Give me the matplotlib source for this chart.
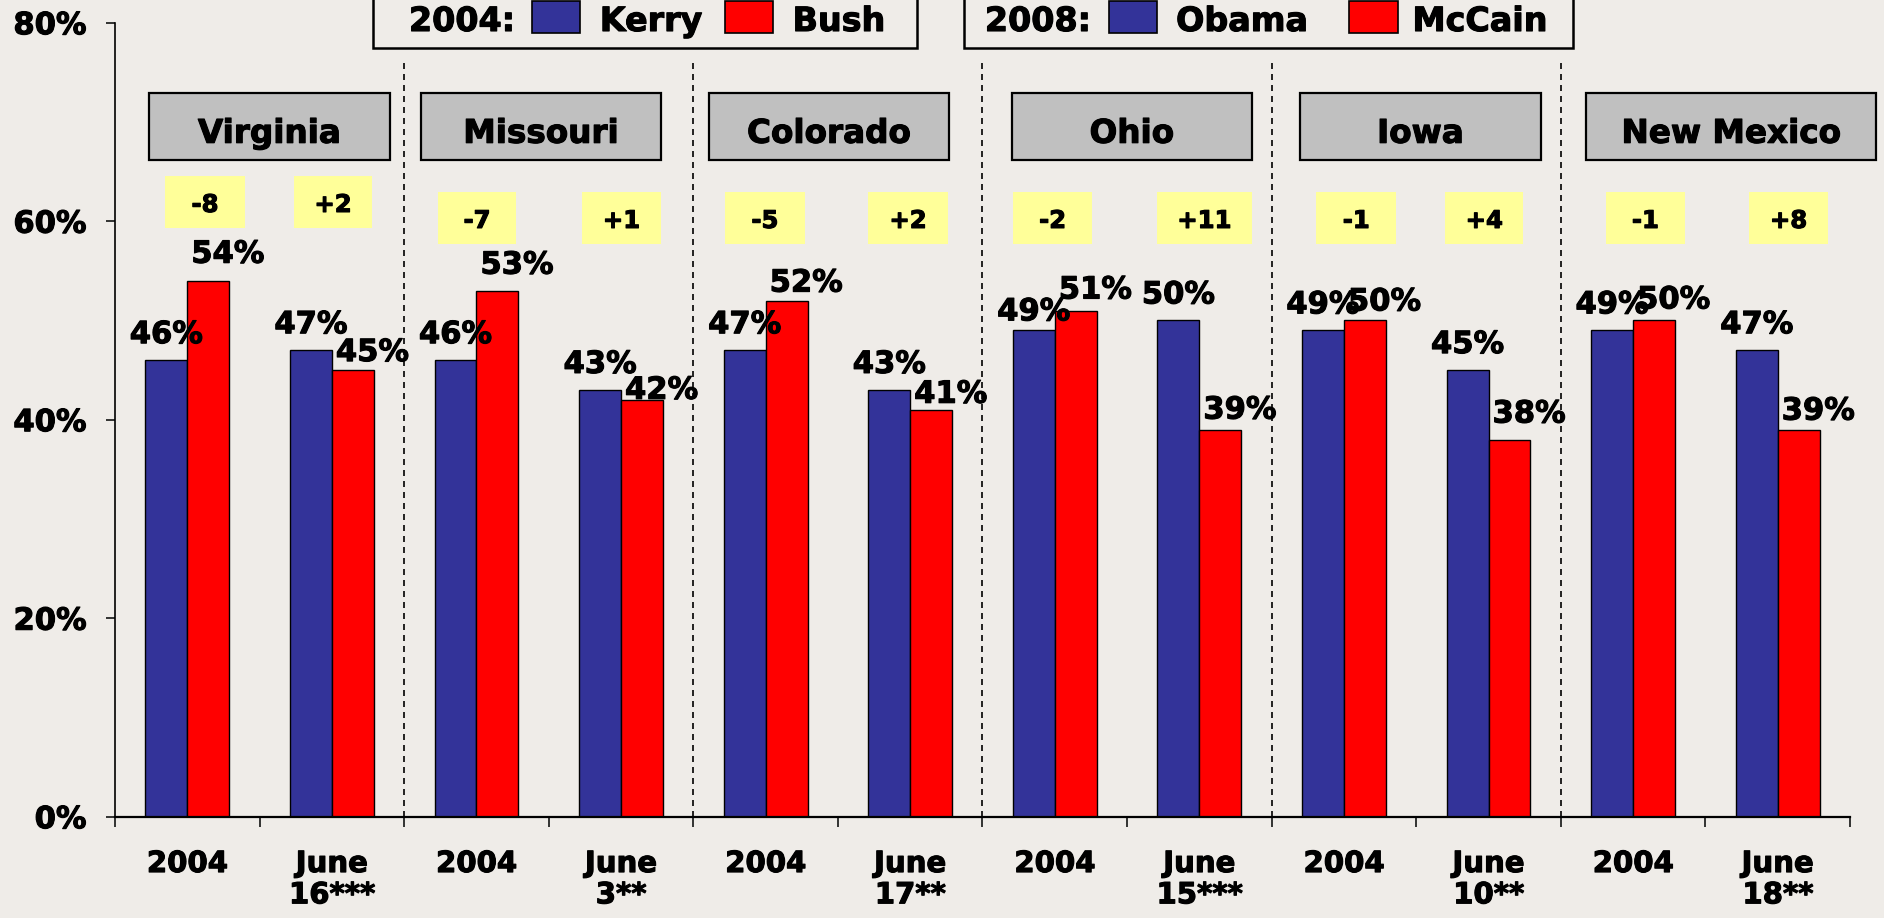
import numpy as np
import matplotlib
matplotlib.use('Agg')
import matplotlib.pyplot as plt
import matplotlib.patheffects as pe
from matplotlib.patches import Rectangle
from matplotlib.text import Text
from matplotlib.ticker import PercentFormatter

# data
states = ['Virginia', 'Missouri', 'Colorado', 'Ohio', 'Iowa', 'New Mexico']
poll_dates = ['June\n16***', 'June\n3**', 'June\n17**', 'June\n15***', 'June\n10**', 'June\n18**']
dem_2004 = [46, 46, 47, 49, 49, 49]   # Kerry
rep_2004 = [54, 53, 52, 51, 50, 50]   # Bush
dem_2008 = [47, 43, 43, 50, 45, 47]   # Obama
rep_2008 = [45, 42, 41, 39, 38, 39]   # McCain
margin_2004 = ['-8', '-7', '-5', '-2', '-1', '-1']
margin_2008 = ['+2', '+1', '+2', '+11', '+4', '+8']

# one category per poll: 2004, 2008, 2004, 2008 ...
cats = [c for d in poll_dates for c in ('2004', d)]
dem_vals = [v for pair in zip(dem_2004, dem_2008) for v in pair]
rep_vals = [v for pair in zip(rep_2004, rep_2008) for v in pair]
margins = [m for pair in zip(margin_2004, margin_2008) for m in pair]

# label gaps above bars (pixels), as placed in the original
gap_dem = [17, 17, 17, 17, 17, 17, 10, 17, 17, 17, 17, 17]
gap_rep = [18, 9, 17, 1, 9, 7, 12, 11, 10, 17, 12, 10]

bg = '#efece8'
blue = '#333399'
red = '#ff0000'
W, H = 1884, 918

plt.rcParams['font.family'] = 'DejaVu Sans'
plt.rcParams['font.weight'] = 'bold'

fig = plt.figure(figsize=(W / 100, H / 100), dpi=100, facecolor=bg)
ax = fig.add_axes([115 / W, 101.3 / H, (1850 - 115) / W, 794 / H])
ax.set_facecolor('none')

x = np.arange(len(cats))
bw = 0.29
ax.bar(x - bw / 2, dem_vals, bw, color=blue, edgecolor='black', linewidth=1.0, zorder=2)
ax.bar(x + bw / 2, rep_vals, bw, color=red, edgecolor='black', linewidth=1.0, zorder=2)

for i in range(len(cats)):
    ax.annotate(f'{dem_vals[i]}%', (x[i] - bw / 2, dem_vals[i]), xytext=(0, gap_dem[i]),
                textcoords='offset pixels', ha='center', va='baseline', fontsize=22, zorder=4)
    ax.annotate(f'{rep_vals[i]}%', (x[i], rep_vals[i]), xytext=(4, gap_rep[i]),
                textcoords='offset pixels', ha='left', va='baseline', fontsize=22, zorder=4)

# dashed separators between states
ax.vlines(np.arange(1.5, 10, 2), 0, 75.9, colors='black', linestyles=(0, (3.6, 3)),
          linewidth=1.2, zorder=1)

# state name boxes
box_left = [-0.265, 1.616, 3.608, 5.703, 7.695, 9.673]
box_w = [1.667, 1.66, 1.66, 1.66, 1.667, 2.01]
for s, l, w in zip(states, box_left, box_w):
    ax.add_patch(Rectangle((l, 66.18), w, 6.76, facecolor='#c0c0c0', edgecolor='black',
                           linewidth=1.6, clip_on=False, zorder=3))
    ax.text(l + w / 2, 67.9, s, ha='center', va='baseline', fontsize=23.5, zorder=4)

# yellow margin boxes
ybox_left = [-0.154, 0.738, 1.734, 2.73, 3.72, 4.71, 5.71, 6.706, 7.81, 8.70, 9.81, 10.80]
ybox_w = [0.553, 0.54, 0.54, 0.546, 0.55, 0.55, 0.55, 0.657, 0.55, 0.54, 0.55, 0.55]
for i, m in enumerate(margins):
    yb = 59.29 if i < 2 else 57.68
    ax.add_patch(Rectangle((ybox_left[i], yb), ybox_w[i], 5.24, facecolor='#ffff99',
                           edgecolor='none', clip_on=False, zorder=3))
    ax.text(ybox_left[i] + ybox_w[i] / 2, yb + 1.64, m, ha='center', va='baseline',
            fontsize=17.5, zorder=4)

# axes
ax.set_xlim(-0.5, len(cats) - 0.5)
ax.set_ylim(0, 80)
ax.set_yticks(np.arange(0, 81, 20))
ax.yaxis.set_major_formatter(PercentFormatter(100, decimals=0))
ax.set_xticks(np.arange(-0.5, len(cats), 1))
ax.set_xticklabels([])
ax.set_xticks(x, labels=cats, minor=True)
ax.tick_params(axis='x', which='major', direction='out', length=7.2, width=1.1)
ax.tick_params(axis='x', which='minor', length=0, pad=24, labelsize=21)
ax.tick_params(axis='y', direction='out', length=6.5, width=1.1, pad=14, labelsize=22)
for lbl in ax.get_xticklabels(minor=True):
    lbl.set_linespacing(1.15)
for side in ['top', 'right']:
    ax.spines[side].set_visible(False)
ax.spines['left'].set_linewidth(1.2)
ax.spines['bottom'].set_linewidth(1.6)


# legends (two framed boxes at the top, cut off by the figure edge)
def fx(px):
    return px / W


def fy(py):
    return 1 - py / H


def legend_box(x0, x1, year_lbl, year_c, entries):
    fig.patches.append(Rectangle((fx(x0), fy(48)), fx(x1 - x0), 0.1, transform=fig.transFigure,
                                 facecolor=bg, edgecolor='black', linewidth=1.8))
    fig.text(fx(year_c), fy(31), year_lbl, ha='center', va='baseline', fontsize=24)
    for name, color, sq0, sq1, tc in entries:
        fig.patches.append(Rectangle((fx(sq0), fy(33)), fx(sq1 - sq0), 32 / H,
                                     transform=fig.transFigure, facecolor=color,
                                     edgecolor='black', linewidth=1.2))
        fig.text(fx(tc), fy(31), name, ha='center', va='baseline', fontsize=24)


legend_box(373, 917, '2004:', 462, [('Kerry', blue, 532, 580, 651),
                                     ('Bush', red, 725, 773, 839)])
legend_box(964, 1573, '2008:', 1038, [('Obama', blue, 1109, 1157, 1242),
                                       ('McCain', red, 1349, 1398, 1480)])

# heavier lettering, like the original
for t in fig.findobj(Text):
    t.set_path_effects([pe.withStroke(linewidth=0.8, foreground='black')])

fig.savefig('out.png', dpi=100, facecolor=bg)
